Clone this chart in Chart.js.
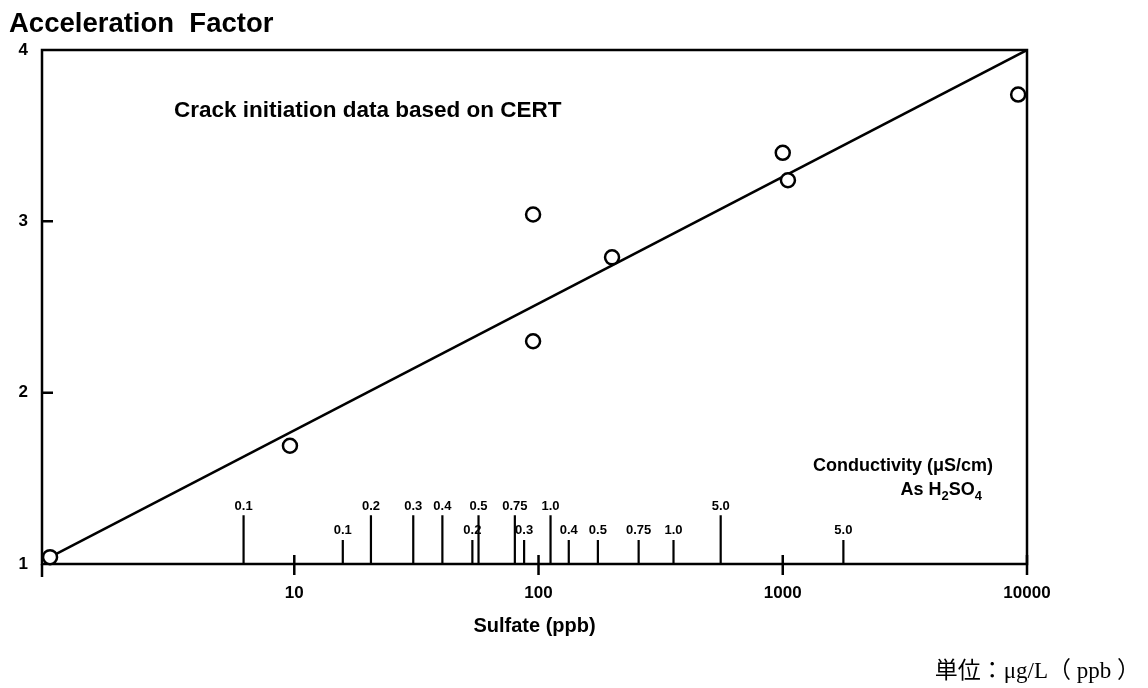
<!DOCTYPE html>
<html>
<head>
<meta charset="utf-8">
<title>Acceleration Factor vs Sulfate</title>
<script src="https://cdn.jsdelivr.net/npm/chart.js@4.4.0/dist/chart.umd.min.js"></script>
<style>
  html, body { margin: 0; padding: 0; background: #fff; }
</style>
</head>
<body>
<canvas id="af-chart" width="1148" height="688"></canvas>
<script>
"use strict";

// measured crack initiation points (CERT)
const sulfatePpb = [1, 9.6, 95, 95, 200, 1000, 1050, 9200];
const accelFactor = [1.04, 1.69, 3.04, 2.30, 2.79, 3.40, 3.24, 3.74];

// fitted trend line end points
const fitPpb = [1, 10000];
const fitFactor = [1.04, 4];

// axis ticks
const sulfateTicks = [10, 100, 1000, 10000];
const factorTicks = [1, 2, 3, 4];

// conductivity (uS/cm) scale marks, placed at their sulfate equivalent
const condUpperLabels = ['0.1', '0.2', '0.3', '0.4', '0.5', '0.75', '1.0', '5.0'];
const condUpperPpb = [6.2, 20.6, 30.7, 40.4, 56.8, 80, 112, 557];
const condLowerLabels = ['0.1', '0.2', '0.3', '0.4', '0.5', '0.75', '1.0', '5.0'];
const condLowerPpb = [15.8, 53.6, 87.3, 133, 175, 257, 357, 1771];

const SANS = '"Liberation Sans", Arial, Helvetica, sans-serif';

function xy(xs, ys) {
  return xs.map((v, i) => ({ x: v, y: ys[i] }));
}

// frame, axis ticks and the conductivity scale
const framePlugin = {
  id: 'frame',
  beforeDatasetsDraw(chart) {
    const { ctx, chartArea: a, scales: { x, y } } = chart;
    ctx.save();
    ctx.strokeStyle = '#000';
    ctx.lineWidth = 2.5;
    ctx.beginPath();
    ctx.rect(a.left, a.top, a.right - a.left, a.bottom - a.top);
    ctx.stroke();

    ctx.beginPath();
    // left axis runs on a bit below the bottom
    ctx.moveTo(a.left, a.bottom);
    ctx.lineTo(a.left, a.bottom + 13);
    sulfateTicks.forEach(function(v) {
      const px = x.getPixelForValue(v);
      ctx.moveTo(px, a.bottom - 9);
      ctx.lineTo(px, a.bottom + 11);
    });
    // short inward ticks on the factor axis
    factorTicks.slice(1, -1).forEach(function(v) {
      const py = y.getPixelForValue(v);
      ctx.moveTo(a.left, py);
      ctx.lineTo(a.left + 11, py);
    });
    ctx.stroke();

    const y0 = y.getPixelForValue(1);
    const yUpper = y.getPixelForValue(1.285);
    const yLower = y.getPixelForValue(1.14);
    ctx.lineWidth = 2.2;
    ctx.beginPath();
    condUpperPpb.forEach(function(v) {
      const px = x.getPixelForValue(v);
      ctx.moveTo(px, y0);
      ctx.lineTo(px, yUpper);
    });
    condLowerPpb.forEach(function(v) {
      const px = x.getPixelForValue(v);
      ctx.moveTo(px, y0);
      ctx.lineTo(px, yLower);
    });
    ctx.stroke();

    ctx.fillStyle = '#000';
    ctx.font = 'bold 13px ' + SANS;
    ctx.textAlign = 'center';
    ctx.textBaseline = 'middle';
    condUpperPpb.forEach(function(v, i) {
      ctx.fillText(condUpperLabels[i], x.getPixelForValue(v), yUpper - 9);
    });
    condLowerPpb.forEach(function(v, i) {
      ctx.fillText(condLowerLabels[i], x.getPixelForValue(v), yLower - 10);
    });
    ctx.restore();
  },
  afterDraw(chart) {
    const { ctx, chartArea: a } = chart;
    ctx.save();
    ctx.fillStyle = '#000';

    ctx.textAlign = 'left';
    ctx.textBaseline = 'alphabetic';
    ctx.font = 'bold 27.5px ' + SANS;
    ctx.fillText('Acceleration  Factor', 9, 32);

    ctx.font = 'bold 22.5px ' + SANS;
    ctx.fillText('Crack initiation data based on CERT', 174, 117);

    ctx.textAlign = 'center';
    ctx.textBaseline = 'middle';
    ctx.font = 'bold 20px ' + SANS;
    ctx.fillText('Sulfate (ppb)', (a.left + a.right) / 2, 626);

    ctx.textAlign = 'right';
    ctx.font = 'bold 18px ' + SANS;
    ctx.fillText('Conductivity (\u03BCS/cm)', 993, 466);

    // "As H2SO4" with subscripts, right aligned
    const parts = [['As H', false], ['2', true], ['SO', false], ['4', true]];
    const big = 'bold 18px ' + SANS, small = 'bold 13px ' + SANS;
    let w = 0;
    parts.forEach(function(p) { ctx.font = p[1] ? small : big; w += ctx.measureText(p[0]).width; });
    let cx = 982 - w;
    ctx.textAlign = 'left';
    ctx.textBaseline = 'alphabetic';
    parts.forEach(function(p) {
      ctx.font = p[1] ? small : big;
      ctx.fillText(p[0], cx, p[1] ? 500 : 495);
      cx += ctx.measureText(p[0]).width;
    });

    ctx.textAlign = 'right';
    ctx.textBaseline = 'middle';
    ctx.font = '23px "Liberation Serif", "Noto Sans CJK JP", serif';
    ctx.fillText('単位：\u03BCg/L（ ppb ）', 1140, 672);
    ctx.restore();
  }
};

const ctx = document.getElementById('af-chart').getContext('2d');
const chart = new Chart(ctx, {
  data: {
    datasets: [{
      type: 'scatter',
      data: xy(sulfatePpb, accelFactor),
      pointStyle: 'circle',
      pointRadius: 7,
      pointBorderWidth: 2.5,
      pointBackgroundColor: '#fff',
      pointBorderColor: '#000',
      clip: false,
    }, {
      type: 'line',
      data: xy(fitPpb, fitFactor),
      borderColor: '#000',
      borderWidth: 2.5,
      pointRadius: 0,
      fill: false,
    }],
  },
  options: {
    responsive: false,
    animation: false,
    devicePixelRatio: 1,
    layout: {
      padding: { top: 50, right: 121, left: 0, bottom: 0 },
    },
    scales: {
      x: {
        type: 'logarithmic',
        min: 0.927,
        max: 10000,
        afterBuildTicks: function(scale) {
          scale.ticks = sulfateTicks.map(v => ({ value: v }));
        },
        afterFit: function(scale) { scale.height = 124; },
        grid: { display: false, drawTicks: false },
        border: { display: false },
        ticks: {
          autoSkip: false,
          maxRotation: 0,
          padding: 19,
          color: '#000',
          font: { family: SANS, size: 17, weight: 'bold' },
          callback: function(val) { return String(val); },
        },
      },
      y: {
        type: 'linear',
        min: 1,
        max: 4,
        afterBuildTicks: function(scale) {
          scale.ticks = factorTicks.map(v => ({ value: v }));
        },
        afterFit: function(scale) { scale.width = 42; },
        grid: { display: false, drawTicks: false },
        border: { display: false },
        ticks: {
          padding: 14,
          color: '#000',
          font: { family: SANS, size: 17, weight: 'bold' },
        },
      },
    },
    plugins: {
      legend: { display: false },
      tooltip: { enabled: false },
    },
  },
  plugins: [framePlugin],
});
</script>
</body>
</html>
